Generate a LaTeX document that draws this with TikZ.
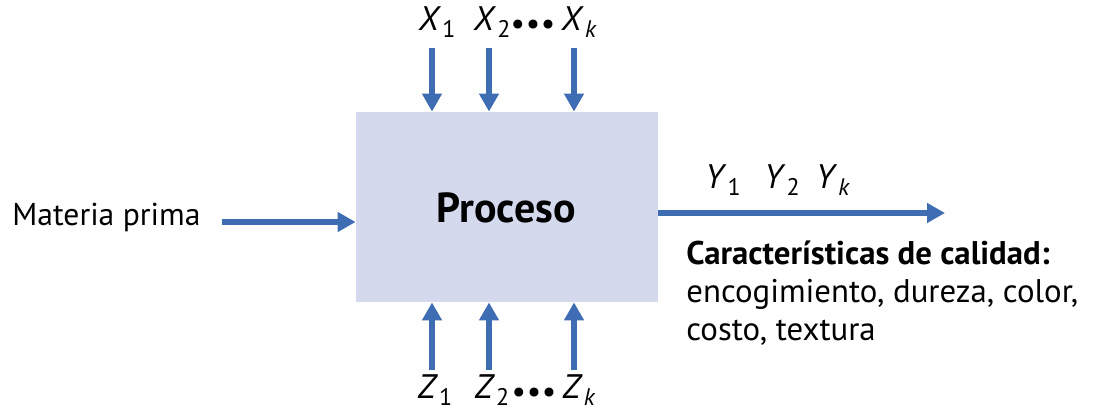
\documentclass[tikz,border=0pt]{standalone}
\usepackage{fontspec}
\setmainfont{PT Sans}
\usetikzlibrary{arrows.meta}
\definecolor{flecha}{HTML}{3F6DB3}
\definecolor{caja}{HTML}{D4D9EE}
\newcommand\vsub[2]{\textit{#1}\kern0.5pt\raisebox{-0.45ex}{\fontsize{12}{13}\selectfont #2}}
\begin{document}
\begin{tikzpicture}[x=0.5pt,y=-0.5pt,
    flujo/.style={draw=flecha,line width=2.6pt,-{Triangle[length=9pt,width=9.5pt]}},
    var/.style={font=\fontsize{17}{19}\selectfont,inner sep=0pt},
    puntos/.style={font=\fontsize{16}{18}\selectfont,inner sep=0pt}]
            \useasboundingbox (0,0) rectangle (1097,412);
            \node[fill=caja,minimum width=151pt,minimum height=95pt,inner sep=0pt] (P) at (507,207) {};
            \node[font=\fontsize{21}{23}\selectfont\bfseries] (Ptxt) at (506,208) {Proceso};
            \node[var,anchor=west,font=\fontsize{15.8}{18}\selectfont] (M) at (12,217) {Materia prima};
            \coordinate (Mfin) at (222,222);
            \draw[flujo] (Mfin) -- (P.west |- Mfin);
            % entradas controlables
            \node[var] (X1) at (437,22) {\vsub{X}{1}};
            \node[var] (X2) at (492,22) {\vsub{X}{2}};
            \node[var] (Xk) at (579,22) {\vsub{X}{\textit{k}}};
            \node[puntos] (Xd) at (533,27) {\textbullet\kern0.3pt\textbullet\kern0.3pt\textbullet};
            \coordinate (x1) at (432,48);
            \coordinate (x2) at (489,48);
            \coordinate (xk) at (574,48);
            \draw[flujo] (x1) -- (P.north -| x1);
            \draw[flujo] (x2) -- (P.north -| x2);
            \draw[flujo] (xk) -- (P.north -| xk);
            % entradas no controlables
            \node[var] (Z1) at (435,390) {\vsub{Z}{1}};
            \node[var] (Z2) at (492,390) {\vsub{Z}{2}};
            \node[var] (Zk) at (579,390) {\vsub{Z}{\textit{k}}};
            \node[puntos] (Zd) at (534,395) {\textbullet\kern0.3pt\textbullet\kern0.3pt\textbullet};
            \coordinate (z1) at (432,370);
            \coordinate (z2) at (489,370);
            \coordinate (zk) at (574,370);
            \draw[flujo] (z1) -- (P.south -| z1);
            \draw[flujo] (z2) -- (P.south -| z2);
            \draw[flujo] (zk) -- (P.south -| zk);
            % salida
            \coordinate (Yfin) at (945,213);
            \draw[flujo] (P.east |- Yfin) -- (Yfin);
            \node[var] (Y1) at (723,180) {\vsub{Y}{1}};
            \node[var] (Y2) at (782,180) {\vsub{Y}{2}};
            \node[var] (Yk) at (833,180) {\vsub{Y}{\textit{k}}};
            \node[var,anchor=north west,align=left,font=\fontsize{16.4}{19}\selectfont] (C) at (686,240)
                {\textbf{Características de calidad:}\\encogimiento, dureza, color,\\costo, textura};
        \end{tikzpicture}
\end{document}
